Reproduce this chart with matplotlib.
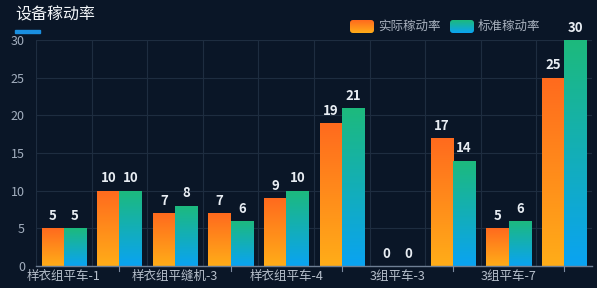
import matplotlib
matplotlib.use("Agg")
import matplotlib.pyplot as plt
import numpy as np
from matplotlib.colors import LinearSegmentedColormap
from matplotlib.patches import FancyBboxPatch, Rectangle

plt.rcParams['font.family'] = ['Noto Sans CJK SC', 'DejaVu Sans']

categories = ['样衣组平车-1', '样衣组平车-2', '样衣组平缝机-3', '样衣组平缝机-4', '样衣组平车-4',
              '样衣组平车-5', '3组平车-3', '3组平车-5', '3组平车-7', '3组平车-8']
actual = [5, 10, 7, 7, 9, 19, 0, 17, 5, 25]
standard = [5, 10, 8, 6, 10, 21, 0, 14, 6, 30]
series_names = ['实际稼动率', '标准稼动率']
title = '设备稼动率'
yticks = [0, 5, 10, 15, 20, 25, 30]

bg = '#0a1627'
fig = plt.figure(figsize=(5.97, 2.88), dpi=100, facecolor=bg)
ax = fig.add_axes([36/597, 1-266/288, 556/597, 226/288])
ax.set_facecolor(bg)

cmap_a = LinearSegmentedColormap.from_list('a', ['#ffad18', '#ff6a1e'])
cmap_s = LinearSegmentedColormap.from_list('s', ['#0aa3f2', '#1dba7c'])
grad = np.linspace(0, 1, 256).reshape(-1, 1)

x = np.arange(len(categories))
w = 0.4
ba = ax.bar(x - w/2, actual, w, color='none', edgecolor='none')
bs = ax.bar(x + w/2, standard, w, color='none', edgecolor='none')
for bars, cmap in ((ba, cmap_a), (bs, cmap_s)):
    for r in bars:
        h = r.get_height()
        if h <= 0:
            continue
        x0 = r.get_x()
        im = ax.imshow(grad, cmap=cmap, origin='lower', aspect='auto',
                       extent=(x0, x0 + r.get_width(), 0, h), zorder=2)
        im.set_clip_path(r)

for bars, vals in ((ba, actual), (bs, standard)):
    for r, v in zip(bars, vals):
        ax.text(r.get_x() + r.get_width()/2, v + 0.7, str(v), ha='center', va='bottom',
                color='#e8edf3', fontsize=9.5, fontweight='bold', zorder=3)

ax.set_xlim(-0.5, len(categories) - 0.5)
ax.set_ylim(0, 30)
ax.set_yticks(yticks)
ax.set_yticklabels([str(t) for t in yticks], color='#a3afbf', fontsize=9)
ax.tick_params(axis='y', length=0, pad=8)

ax.set_xticks(x[::2])
ax.set_xticklabels(categories[::2], color='#b7c0cc', fontsize=9)
ax.tick_params(axis='x', length=0, pad=3)
for xi in x[1::2]:
    ax.plot([xi, xi], [0, -0.7], color='#7c8aa0', lw=0.8, clip_on=False, zorder=4)

for yv in yticks[1:]:
    ax.axhline(yv, color='#1e2d40', lw=0.8, zorder=0)
for xb in np.arange(-0.5, len(categories) - 0.4, 1):
    ax.axvline(xb, color='#1e2d40', lw=0.8, zorder=0)

for s in ['top', 'right', 'left']:
    ax.spines[s].set_visible(False)
ax.spines['bottom'].set_color('#6f7f94')
ax.spines['bottom'].set_linewidth(1)

fig.text(15/597, 1-15/288, title, color='#f2f5f8', fontsize=11.5, va='center', ha='left')
fig.patches.append(Rectangle((15/597, 1-33/288), 25/597, 3/288, transform=fig.transFigure,
                             color='#1a8fe0', figure=fig))

# legend
for i, (name, cmap) in enumerate(zip(series_names, (cmap_a, cmap_s))):
    lx = 350 + i * 100
    lax = fig.add_axes([lx/597, 1-33/288, 24/597, 13/288])
    lax.set_xlim(0, 1)
    lax.set_ylim(0, 1)
    im = lax.imshow(grad, cmap=cmap, origin='lower', aspect='auto', extent=(0, 1, 0, 1))
    box = FancyBboxPatch((0.0, 0.0), 1, 1, boxstyle='round,pad=0,rounding_size=0.12',
                         mutation_aspect=24/13, facecolor='none', edgecolor='none',
                         transform=lax.transData)
    lax.add_patch(box)
    im.set_clip_path(box)
    lax.set_axis_off()
    fig.text((lx + 28)/597, 1-26/288, name, color='#a7b0bd', fontsize=9, va='center', ha='left')

fig.savefig('out.png', dpi=100, facecolor=bg)
